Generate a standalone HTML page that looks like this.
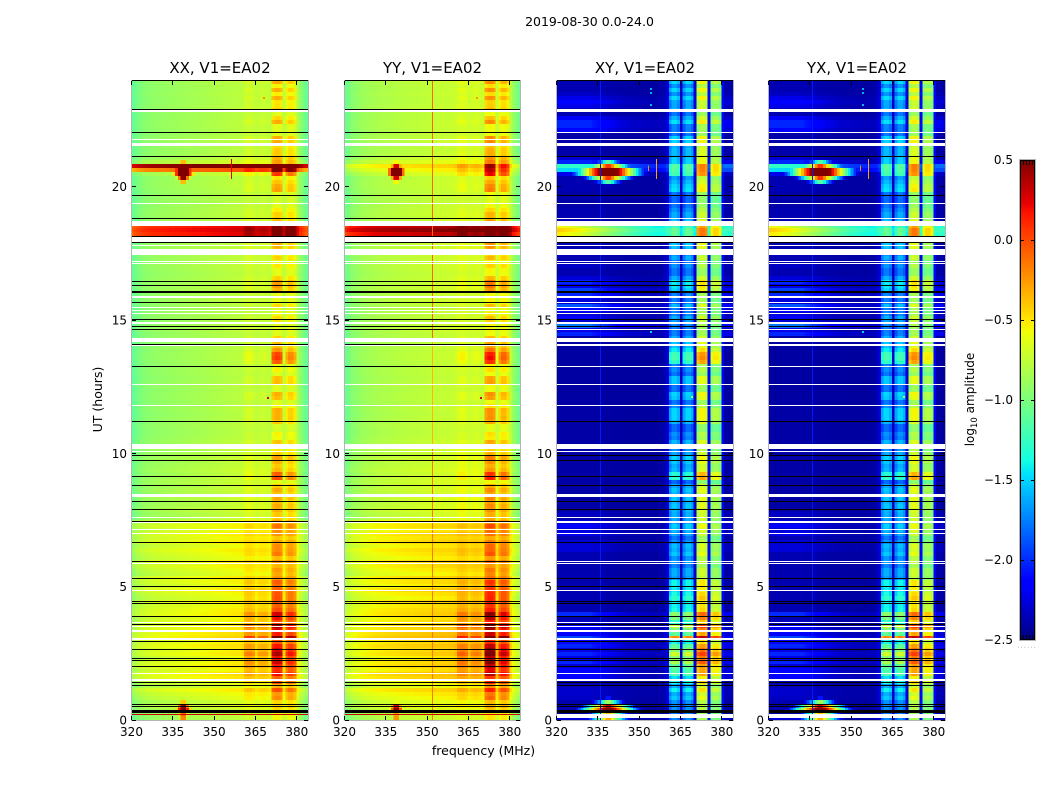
<!DOCTYPE html>
<html lang="en">
<head>
<meta charset="utf-8">
<title>2019-08-30 0.0-24.0</title>
<style>
html,body{margin:0;padding:0;background:#fff;}
svg{display:block;}
text{font-family:"DejaVu Sans","Liberation Sans",sans-serif;fill:#000;}
</style>
</head>
<body>
<svg id="figure" xmlns="http://www.w3.org/2000/svg" width="1050" height="800" viewBox="0 0 1050 800">
  <rect x="0" y="0" width="1050" height="800" fill="#fff"/>
  <text x="589.5" y="26" font-size="12.5" text-anchor="middle">2019-08-30 0.0-24.0</text>
  <g id="panel-xx"></g>
  <g id="panel-yy"></g>
  <g id="panel-xy"></g>
  <g id="panel-yx"></g>
  <text x="220" y="73" font-size="15" text-anchor="middle">XX, V1=EA02</text>
  <text x="432.5" y="73" font-size="15" text-anchor="middle">YY, V1=EA02</text>
  <text x="645" y="73" font-size="15" text-anchor="middle">XY, V1=EA02</text>
  <text x="857" y="73" font-size="15" text-anchor="middle">YX, V1=EA02</text>
  <text x="483.5" y="755" font-size="12.5" text-anchor="middle">frequency (MHz)</text>
  <text transform="translate(102,399.5) rotate(-90)" font-size="12.5" text-anchor="middle">UT (hours)</text>
  <g id="colorbar"></g>
  <text transform="translate(974,399.5) rotate(-90)" font-size="12" text-anchor="middle">log<tspan font-size="8.5" dy="3">10</tspan><tspan dy="-3"> amplitude</tspan></text>
  <text x="1017.5" y="647.5" font-size="5" letter-spacing="1.7" style="fill:#444">......</text>
</svg>
<script>
// ---------- chart data ----------
const freqChannelsMHz = [320,321,322,323,324,325,326,327,328,329,330,331,332,333,334,335,336,337,338,339,340,341,342,343,344,345,346,347,348,349,350,351,352,353,354,355,356,357,358,359,360,361,362,363,364,365,366,367,368,369,370,371,372,373,374,375,376,377,378,379,380,381,382,383];
const freqTicks = [320,335,350,365,380];
const hourTicks = [0,5,10,15,20];
const colorbarTicks = [0.5,0,-0.5,-1,-1.5,-2,-2.5];

const xxSpectrum = [-1.12,-1.08,-1.04,-1.01,-0.99,-0.97,-0.96,-0.95,-0.94,-0.94,
 -0.93,-0.93,-0.92,-0.92,-0.91,-0.91,-0.9,-0.9,-0.89,-0.89,
 -0.88,-0.88,-0.87,-0.87,-0.87,-0.86,-0.86,-0.85,-0.85,-0.84,
 -0.84,-0.83,-0.83,-0.82,-0.82,-0.81,-0.81,-0.8,-0.8,-0.8,
 -0.8,-0.78,-0.77,-0.77,-0.78,-0.79,-0.78,-0.77,-0.77,-0.78,
 -0.8,-0.78,-0.74,-0.74,-0.76,-0.8,-0.76,-0.72,-0.72,-0.76,
 -0.85,-0.95,-1.02,-1.1];
const yySpectrum = [-1.1,-1.05,-1.0,-0.97,-0.95,-0.93,-0.91,-0.9,-0.89,-0.88,
 -0.87,-0.86,-0.85,-0.85,-0.84,-0.84,-0.83,-0.83,-0.82,-0.82,
 -0.81,-0.81,-0.8,-0.8,-0.8,-0.79,-0.79,-0.79,-0.78,-0.78,
 -0.78,-0.77,-0.77,-0.77,-0.76,-0.76,-0.76,-0.76,-0.75,-0.75,
 -0.75,-0.74,-0.73,-0.73,-0.74,-0.75,-0.74,-0.73,-0.73,-0.74,
 -0.76,-0.74,-0.7,-0.7,-0.72,-0.77,-0.73,-0.68,-0.68,-0.73,
 -0.82,-0.92,-1.0,-1.08];
const crossSpectrum = [-2.42,-2.42,-2.42,-2.42,-2.42,-2.42,-2.42,-2.42,-2.42,-2.42,
 -2.42,-2.42,-2.42,-2.42,-2.42,-2.42,-2.42,-2.42,-2.42,-2.42,
 -2.42,-2.42,-2.42,-2.42,-2.42,-2.42,-2.42,-2.42,-2.42,-2.42,
 -2.42,-2.42,-2.42,-2.42,-2.42,-2.42,-2.42,-2.42,-2.4,-2.38,
 -2.3,-2.0,-1.85,-1.85,-1.95,-2.35,-2.0,-1.85,-1.85,-1.95,
 -2.3,-1.08,-0.96,-0.96,-1.04,-2.2,-1.2,-1.1,-1.1,-1.2,
 -2.2,-2.42,-2.42,-2.42];

const parallelRfiWeight = [0,0,0,0,0,0,0,0,0,0,0,0,0,0,0,0,0,0,0,0,0,0,0,0,0,0,0,0,0,0,0,0,0,0,0,0,0,0,0,0,
 0.03,0.14,0.16,0.16,0.12,0.03,0.06,0.08,0.08,0.06,0.03,0.85,0.9,0.9,0.85,0.1,0.5,0.6,0.6,0.5,0.05,0,0,0];
const crossRfiWeight = [0,0,0,0,0,0,0,0,0,0,0,0,0,0,0,0,0,0,0,0,0,0,0,0,0,0,0,0,0,0,0,0,0,0,0,0,0,0,0,0,
 0.03,0.8,0.8,0.8,0.8,0.05,0.8,0.8,0.8,0.8,0.05,0.9,0.9,0.9,0.9,0.1,0.7,0.7,0.7,0.7,0.1,0,0,0];
const parallelBoostWeight = [0,0,0,0,0,0,0,0,0,0,0,0,0,0,0,0,0,0,0,0,0,0,0,0,0,0,0,0,0,0,0,0,0,0,0,0,0,0,0,0,
 0,0.35,0.35,0.35,0.35,0,0.3,0.3,0.3,0.3,0,0.25,0.25,0.25,0.25,0,0.25,0.25,0.25,0.25,0,0,0,0];
const crossBoostWeight = [0,0,0,0,0,0,0,0,0,0,0,0,0,0,0,0,0,0,0,0,0,0,0,0,0,0,0,0,0,0,0,0,0,0,0,0,0,0,0,0,
 0,1,1,1,1,0,1,1,1,1,0,0.5,0.5,0.5,0.5,0,0.5,0.5,0.5,0.5,0,0,0,0];
const crossHazeWeight = [1,1,1,1,1,1,1,1,1,1,1,1,1,
 0.9,0.85,0.8,0.75,0.7,0.65,0.6,0.55,0.5,0.45,0.42,0.38,0.35,
 0.3,0.29,0.28,0.27,0.26,0.25,0.24,0.23,0.22,0.21,0.2,0.19,0.18,0.16,0.15,
 0.1,0.1,0.1,0.1,0.1,0.1,0.1,0.1,0.1,0.1,0.1,0.1,0.1,0.1,0.1,0.1,0.1,0.1,0.1,0.1,
 0.5,0.5,0.5];
const crossBandWeight = [1,1,0.99,0.98,0.97,0.96,0.95,0.94,0.93,0.92,0.9,0.89,0.87,0.86,0.85,0.83,0.82,0.8,0.79,0.77,0.76,0.75,0.73,0.72,0.7,0.69,0.67,0.66,0.65,0.63,0.62,0.61,0.6,0.59,0.58,0.57,0.56,0.56,0.55,0.55,0.55,
 0.05,0.05,0.05,0.05,0.45,0.05,0.05,0.05,0.05,0.45,0.03,0.03,0.03,0.03,0.45,0.03,0.03,0.03,0.03,0.45,0.6,0.6,0.6];

// one value per 0.15 h time row, starting at 0 UT
const parallelBroadband = [0.05,0.05,0.1,0.15,0.12,0.18,0.22,0.28,0.15,0.2,
 0.3,0.33,0.25,0.3,0.28,0.22,0.3,0.28,0.32,0.28,
 0.36,0.33,0.28,0.3,0.26,0.24,0.3,0.28,0.25,0.28,
 0.2,0.24,0.3,0.22,0.26,0.28,0.18,0.22,0.26,0.28,
 0.2,0.24,0.27,0.22,0.28,0.25,0.28,0.22,0.26,0.22,
 0.08,0.07,0.1,0.08,0.07,0.09,0.06,0.08,0.07,0.08,
 0.07,0.06,0.08,0.06,0.05,0.07,0.05,0.06,0.05,0.04,
 0.03,0.02,0.02,0.03,0.02,0.02,0.01,0.02,0.02,0.01,
 0.02,0.02,0.01,0.02,0.02,0.01,0.02,0.02,0.01,0.02,
 0.03,0.03,0.02,0.02,0.01,0.02,0.02,0.04,0.03,0.02,
 0.02,0.03,0.02,0.02,0.04,0.04,0.03,0.05,0.05,0.04,
 0.04,0.03,0.04,0.05,0.04,0.04,0.05,0.06,0.05,0.05,
 0.05,0.04,0.03,0.03,0.04,0.04,0.05,0.04,0.03,0.02,
 0.02,0.02,0.03,0.04,0.04,0.03,0.1,0.02,0.02,0.12,
 0.06,0.03,0.02,0.02,0.03,0.03,0.02,0.02,0.03,0.03,
 0.02,0.02,0.02,0.03,0.02,0.02,0.03,0.02,0.02,0.03];
const rfiRowLevel = [0.15,0.15,0.2,0.2,0.2,0.4,0.3,0.5,0.3,0.55,
 0.4,0.65,0.6,0.6,0.75,0.7,0.8,0.75,0.6,0.45,
 0.9,0.55,0.7,0.8,0.5,0.7,0.75,0.5,0.45,0.45,
 0.55,0.5,0.4,0.45,0.45,0.25,0.3,0.3,0.15,0.25,
 0.2,0.4,0.3,0.35,0.2,0.1,0.25,0.35,0.4,0.25,
 0.3,0.3,0.35,0.4,0.35,0.4,0.35,0.4,0.3,0.05,
 0.75,0.7,0.35,0.3,0.4,0.45,0.3,0.2,0.3,0.35,
 0.15,0.2,0.05,0.05,0.35,0.45,0.45,0.45,0.2,0.1,
 0.4,0.45,0.1,0.1,0.4,0.4,0.1,0.2,0.15,0.75,
 0.85,0.8,0.55,0.4,0.4,0.3,0.1,0.1,0.1,0.25,
 0.3,0.15,0.1,0.3,0.1,0.1,0.1,0.4,0.5,0.5,
 0.3,0.1,0.1,0.2,0.1,0.3,0.2,0.35,0.4,0.4,
 0.5,0.85,0.85,0.7,0.4,0.3,0.3,0.2,0.1,0.05,
 0.05,0.1,0.5,0.45,0.35,0.25,0.8,0.8,0.8,0.4,
 0.4,0.35,0.35,0.3,0.45,0.45,0.1,0.1,0.1,0.45,
 0.3,0.1,0.35,0.25,0.25,0.45,0.2,0.45,0.2,0.45];
const crossHazeRow = [0.15,0,0.05,0.05,0.05,0.1,0.12,0.12,0.08,0.05,
 0.3,0.3,0.3,0.15,0.4,0.2,0.4,0.2,0.4,0.3,
 0.5,0.3,0.2,0.25,0.08,0.05,0.42,0.05,0.05,0.05,
 0.05,0.05,0.04,0.05,0.04,0.05,0.05,0.04,0.05,0.05,
 0.05,0.05,0.15,0.15,0.15,0.05,0.2,0.15,0.25,0.15,
 0.05,0.1,0.03,0.02,0.02,0.02,0.02,0.02,0.02,0.02,
 0.02,0.02,0.02,0.02,0.02,0.02,0.02,0.02,0.02,0.02,
 0.02,0.02,0.02,0.02,0.02,0.02,0.02,0.02,0.02,0.02,
 0.01,0.01,0.01,0.01,0.01,0.01,0.01,0.01,0.01,0.01,
 0.01,0.01,0.01,0.01,0.01,0.02,0.4,0.2,0.65,0.15,
 0.25,0.15,0.3,0.55,0.15,0.2,0.4,0.5,0.2,0.4,
 0.15,0.05,0.05,0.1,0.05,0.05,0.1,0.05,0.05,0.05,
 0.05,0.05,0.05,0.05,0.05,0.05,0.05,0.05,0.03,0.03,
 0.03,0.03,0.05,0.05,0.05,0.05,0.2,0.6,0.7,0.4,
 0.15,0.03,0.03,0.03,0.03,0.03,0.03,0.3,0.4,0.4,
 0.25,0.05,0.05,0.2,0.3,0.2,0.1,0.05,0.05,0.05];
// extra band level in the strong early rows (0 to 5.25 h)
const lowRowBandBoost = [0,0,0,0,0,0,0,0.05,0,0.1,0.05,0.15,0.2,0.3,0.4,0.35,0.5,0.3,0.25,0.1,0.9,0.3,0.3,0.5,
 0.2,0.3,0.3,0.1,0.1,0.1,0.15,0.1,0.1,0.1,0.1];

const yyBroadbandGain = 1.15;
const yyRfiGain = 1.15;

// strong broadband rows (start hour of row, log10 lift)
const bandRowHours = [18.15,18.3,18.45,20.55,20.7];
const xxBandLift = [1.0,1.05,1.0,0.75,1.35];
const yyBandLift = [1.05,1.2,1.1,0.2,0.3];
const crossBandLift = [1.85,1.95,1.8,0.35,0.45];

// bursts of interference
const burstFreq = [339,339,339];
const burstHour = [20.55,0.42,0.04];
const xxBurstPeak = [2.0,1.3,0.3];
const yyBurstPeak = [1.8,1.1,0.25];
const crossBurstPeak = [2.0,1.3,0.1];
const parallelBurstFreqSlope = 0.6;
const crossBurstFreqSlope = 0.27;
const parallelBurstHourSlope = 5.5;
const crossBurstHourSlope = 8;

// flagged data
const whiteBands = [[1.46,1.54],[1.73,1.76],[3.0,3.06],[3.3,3.38],[3.49,3.54],[3.64,3.68],[4.84,4.88],[5.85,5.89],[6.98,7.01],[7.13,7.16],[7.37,7.41],[7.59,7.63],[8.36,8.48],[10.05,10.09],[10.15,10.35],[11.78,11.81],[12.56,12.6],[14.03,14.06],[14.16,14.31],[14.85,14.92],[15.22,15.27],[15.34,15.38],[15.45,15.47],[15.84,15.91],[17.1,17.14],[17.19,17.22],[17.45,17.61],[17.63,17.66],[17.78,17.81],[17.93,18.1],[18.53,18.71],[19.35,19.39],[21.53,21.64],[21.75,21.78],[22.8,22.86]];
const crossWhiteBands = [[0.075,0.225]];
const crossWhiteLines = [5.94,7.44,13.25,14.09,14.65,15.66,18.81,22.04,22.89];
const thickBlackBands = [[0.25,0.375],[16.02,16.1],[16.26,16.32]];
const parallelBlackLines = [0.5,0.59,1.3,1.4,2.01,2.22,2.3,2.65,2.95,3.59,3.89,4.38,4.44,5.01,5.31,5.94,6.65,7.44,7.9,8.2,8.8,9.14,9.74,9.93,11.2,13.25,14.09,14.65,14.75,15.03,15.66,16.45,17.91,18.15,18.81,19.68,21.14,22.04,22.89];
const crossBlackLines = [0.5,0.59,1.3,1.4,2.01,2.22,2.3,2.65,2.95,3.59,3.89,4.38,4.44,5.01,5.31,6.65,7.9,8.2,8.8,9.14,9.74,9.93,11.2,14.75,15.03,16.45,17.91,18.15,19.68,21.14];
const parallelHotLineHours = [0.21];
const parallelHotLineValue = [0.3];

// narrow features: frequency, start hour, end hour, value
const spikeFreqXX = [356.3];
const spikeStartXX = [20.29];
const spikeEndXX = [21.03];
const spikeValueXX = [0.25];
const spikeFreqCross = [356.4,353.4];
const spikeStartCross = [20.29,20.59];
const spikeEndCross = [21.03,20.8];
const spikeValueCross = [-0.3,-0.2];
const lineFreqYY = [351.8,351.8,351.8];
const lineStartYY = [0,10.3,14.2];
const lineEndYY = [10.3,14.2,24];
const lineValueYY = [-0.15,-0.35,-0.1];
const lineFreqCross = [336,336];
const lineStartCross = [0,18.6];
const lineEndCross = [18.15,24];
const lineValueCross = [-2.05,-2.05];

// isolated speckles: frequency, hour, value
const speckleFreqParallel = [367.9,369.4];
const speckleHourParallel = [23.36,12.1];
const speckleValueParallel = [-0.25,0.3];
const speckleFreqCross = [354.1,354.1,354.1,354.1,368.9];
const speckleHourCross = [23.7,23.55,23.1,14.6,12.15];
const speckleValueCross = [-1.6,-1.6,-1.6,-1.5,-0.9];

// jet colormap anchors
const jetRPos = [0,0.35,0.66,0.89,1];
const jetRVal = [0,0,1,1,0.5];
const jetGPos = [0,0.125,0.375,0.64,0.91,1];
const jetGVal = [0,0,1,1,0,0];
const jetBPos = [0,0.11,0.34,0.65,1];
const jetBVal = [0.5,1,1,0,0];

// ---------- rendering ----------
const NS = 'http://www.w3.org/2000/svg';
const vMin = -2.5, vMax = 0.5;
const plotTop = 80, plotBottom = 720, hoursMax = 24;
const freqMin = 320, freqMax = 384.25, plotWidth = 177;
const rowHours = hoursMax / rfiRowLevel.length;

function yScale(hour){ return plotBottom - (hour / hoursMax) * (plotBottom - plotTop); }
function xScale(left, mhz){ return left + (mhz - freqMin) / (freqMax - freqMin) * plotWidth; }
function interp(pos, val, t){
  for (let k = 1; k < pos.length; k++) {
    if (t <= pos[k]) return val[k-1] + (val[k]-val[k-1]) * (t-pos[k-1]) / (pos[k]-pos[k-1]);
  }
  return val[val.length-1];
}
function jet(v){
  const t = Math.max(0, Math.min(1, (v - vMin) / (vMax - vMin)));
  const r = Math.round(255 * interp(jetRPos, jetRVal, t));
  const g = Math.round(255 * interp(jetGPos, jetGVal, t));
  const b = Math.round(255 * interp(jetBPos, jetBVal, t));
  return 'rgb(' + r + ',' + g + ',' + b + ')';
}
function burstValue(peaks, slopeF, slopeH, hour, mhz){
  let best = -99;
  for (let k = 0; k < burstFreq.length; k++) {
    const v = peaks[k] - slopeF * Math.abs(mhz - burstFreq[k]) - slopeH * Math.abs(hour - burstHour[k]);
    if (v > best) best = v;
  }
  return best;
}
function bandLift(lifts, i){
  for (let k = 0; k < bandRowHours.length; k++) {
    if (Math.round(bandRowHours[k] / rowHours) === i) return lifts[k];
  }
  return 0;
}
function cellValue(pol, i, c){
  const hour = (i + 0.5) * rowHours;
  const mhz = freqChannelsMHz[c] + 0.5;
  const boost = lowRowBandBoost[i] || 0;
  let v;
  if (pol === 'XX') {
    v = xxSpectrum[c] + parallelBroadband[i] + rfiRowLevel[i] * parallelRfiWeight[c] + boost * parallelBoostWeight[c] + bandLift(xxBandLift, i);
    return Math.max(v, burstValue(xxBurstPeak, parallelBurstFreqSlope, parallelBurstHourSlope, hour, mhz));
  }
  if (pol === 'YY') {
    v = yySpectrum[c] + parallelBroadband[i] * yyBroadbandGain + rfiRowLevel[i] * parallelRfiWeight[c] * yyRfiGain + boost * parallelBoostWeight[c] + bandLift(yyBandLift, i);
    return Math.max(v, burstValue(yyBurstPeak, parallelBurstFreqSlope, parallelBurstHourSlope, hour, mhz));
  }
  v = crossSpectrum[c] + crossHazeRow[i] * crossHazeWeight[c] + rfiRowLevel[i] * crossRfiWeight[c] + boost * crossBoostWeight[c] + bandLift(crossBandLift, i) * crossBandWeight[c];
  return Math.max(v, burstValue(crossBurstPeak, crossBurstFreqSlope, crossBurstHourSlope, hour, mhz));
}
function makeRect(x, y, w, h, fill){
  const r = document.createElementNS(NS, 'rect');
  r.setAttribute('x', x);
  r.setAttribute('y', y);
  r.setAttribute('width', w);
  r.setAttribute('height', h);
  r.setAttribute('fill', fill);
  r.setAttribute('shape-rendering', 'crispEdges');
  return r;
}
function makeLabel(x, y, str, anchor){
  const t = document.createElementNS(NS, 'text');
  t.setAttribute('x', x);
  t.setAttribute('y', y);
  t.setAttribute('font-size', '12');
  t.setAttribute('text-anchor', anchor);
  t.textContent = str;
  return t;
}
function hourBand(g, left, width, h0, h1, fill, name){
  const yTop = Math.round(yScale(h1));
  const yBot = Math.round(yScale(h0));
  const r = makeRect(left, yTop, width, Math.max(1, yBot - yTop), fill);
  
  
  g.appendChild(r);
}
function hourLine(g, left, width, hour, fill, name){
  const r = makeRect(left, Math.floor(yScale(hour)), width, 1, fill);
  
  
  g.appendChild(r);
}

function drawPanel(id, pol, left, innerWidth){
  const g = document.getElementById(id);
  const parallel = (pol === 'XX' || pol === 'YY');
  const heat = document.createElementNS(NS, 'g');
  
  
  g.appendChild(heat);

  for (let i = 0; i < rfiRowLevel.length; i++) {
    const y0 = yScale((i + 1) * rowHours);
    const y1 = yScale(i * rowHours);
    for (let c = 0; c < freqChannelsMHz.length; c++) {
      const x0 = Math.max(left + 1, xScale(left, freqChannelsMHz[c]));
      const x1 = c === freqChannelsMHz.length - 1 ? left + innerWidth : xScale(left, freqChannelsMHz[c + 1]);
      const cell = makeRect(x0, y0, x1 - x0, y1 - y0, jet(cellValue(pol, i, c)));
      
      
      heat.appendChild(cell);
    }
  }

  // continuous vertical lines
  let lnF = [], lnS = [], lnE = [], lnV = [];
  if (pol === 'YY') { lnF = lineFreqYY; lnS = lineStartYY; lnE = lineEndYY; lnV = lineValueYY; }
  if (!parallel) { lnF = lineFreqCross; lnS = lineStartCross; lnE = lineEndCross; lnV = lineValueCross; }
  lnF.forEach(function(f, k){
    const r = makeRect(Math.round(xScale(left, f)), yScale(lnE[k]), 1, yScale(lnS[k]) - yScale(lnE[k]), jet(lnV[k]));
    
    
    g.appendChild(r);
  });

  // short spikes
  let spF = [], spS = [], spE = [], spV = [];
  if (pol === 'XX') { spF = spikeFreqXX; spS = spikeStartXX; spE = spikeEndXX; spV = spikeValueXX; }
  if (!parallel) { spF = spikeFreqCross; spS = spikeStartCross; spE = spikeEndCross; spV = spikeValueCross; }
  spF.forEach(function(f, k){
    const r = makeRect(Math.round(xScale(left, f)), yScale(spE[k]), 1, yScale(spS[k]) - yScale(spE[k]), jet(spV[k]));
    
    
    g.appendChild(r);
  });

  // speckles
  const skF = parallel ? speckleFreqParallel : speckleFreqCross;
  const skH = parallel ? speckleHourParallel : speckleHourCross;
  const skV = parallel ? speckleValueParallel : speckleValueCross;
  skF.forEach(function(f, k){
    const r = makeRect(Math.round(xScale(left, f)), Math.round(yScale(skH[k])), 2, 2, jet(skV[k]));
    
    
    g.appendChild(r);
  });

  // flags
  const fx = left + 1, fw = innerWidth - 1;
  if (parallel) {
    parallelHotLineHours.forEach(function(h, k){
      hourLine(g, fx, fw, h, jet(parallelHotLineValue[k]), 'hot-row-line');
    });
  }
  whiteBands.forEach(function(b){ hourBand(g, fx, fw, b[0], b[1], '#fff', 'flagged-band'); });
  if (!parallel) {
    crossWhiteBands.forEach(function(b){ hourBand(g, fx, fw, b[0], b[1], '#fff', 'flagged-band'); });
    crossWhiteLines.forEach(function(h){ hourLine(g, fx, fw, h, '#fff', 'flagged-line'); });
  }
  thickBlackBands.forEach(function(b){ hourBand(g, fx, fw, b[0], b[1], '#000', 'blanked-band'); });
  (parallel ? parallelBlackLines : crossBlackLines).forEach(function(h){ hourLine(g, fx, fw, h, '#000', 'blanked-line'); });

  // frame
  const right = left + innerWidth;
  const frame = document.createElementNS(NS, 'rect');
  frame.setAttribute('x', left + 0.5);
  frame.setAttribute('y', plotTop + 0.5);
  frame.setAttribute('width', innerWidth);
  frame.setAttribute('height', plotBottom - plotTop);
  frame.setAttribute('fill', 'none');
  frame.setAttribute('stroke', '#b4b4b4');
  frame.setAttribute('shape-rendering', 'crispEdges');
  
  
  g.appendChild(frame);
  const topEdge = makeRect(left + 1, plotTop, innerWidth - 1, 1, '#000');
  
  
  g.appendChild(topEdge);

  // ticks
  freqTicks.forEach(function(f){
    const x = Math.round(xScale(left, f));
    const top = makeRect(x, plotTop + 1, 1, 4, '#000');
    
    
    g.appendChild(top);
    const bot = makeRect(x, plotBottom - 4, 1, 4, '#000');
    
    
    g.appendChild(bot);
    const lab = makeLabel(xScale(left, f) + 0.5, 736, String(f), 'middle');
    
    
    g.appendChild(lab);
  });
  hourTicks.forEach(function(h){
    const y = Math.floor(yScale(h));
    const l = makeRect(left + 1, y, 4, 1, '#000');
    
    
    g.appendChild(l);
    const r = makeRect(right - 4, y, 4, 1, '#000');
    
    
    g.appendChild(r);
    const lab = makeLabel(left - 4, yScale(h) + 4.5, String(h), 'end');
    
    
    g.appendChild(lab);
  });
}

function drawColorbar(){
  const g = document.getElementById('colorbar');
  const cx = 1020, cw = 15, cTop = 160, cBot = 640;
  const cbY = function(v){ return cBot - (v - vMin) / (vMax - vMin) * (cBot - cTop); };
  const steps = 240;
  for (let s = 0; s < steps; s++) {
    const v = vMin + (s + 0.5) / steps * (vMax - vMin);
    const y1 = cbY(vMin + s / steps * (vMax - vMin));
    const y0 = cbY(vMin + (s + 1) / steps * (vMax - vMin));
    const seg = makeRect(cx, y0, cw, y1 - y0, jet(v));
    
    
    g.appendChild(seg);
  }
  const inner = document.createElementNS(NS, 'rect');
  inner.setAttribute('x', cx + 0.5);
  inner.setAttribute('y', cTop + 0.5);
  inner.setAttribute('width', cw - 1);
  inner.setAttribute('height', cBot - cTop - 1);
  inner.setAttribute('fill', 'none');
  inner.setAttribute('stroke', '#000');
  inner.setAttribute('shape-rendering', 'crispEdges');
  
  
  g.appendChild(inner);
  const outer = document.createElementNS(NS, 'rect');
  outer.setAttribute('x', cx - 0.5);
  outer.setAttribute('y', cTop - 0.5);
  outer.setAttribute('width', cw + 1);
  outer.setAttribute('height', cBot - cTop + 1);
  outer.setAttribute('fill', 'none');
  outer.setAttribute('stroke', '#b4b4b4');
  outer.setAttribute('shape-rendering', 'crispEdges');
  
  
  g.appendChild(outer);
  colorbarTicks.forEach(function(v){
    const y = Math.min(cBot - 1, Math.round(cbY(v)));
    const a = makeRect(cx, y, 4, 1, '#000');
    
    
    g.appendChild(a);
    const b = makeRect(cx + cw - 4, y, 4, 1, '#000');
    
    
    g.appendChild(b);
    const str = (v < 0 ? '\u2212' : '') + Math.abs(v).toFixed(1);
    const lab = makeLabel(1013, cbY(v) + 4, str, 'end');
    
    
    g.appendChild(lab);
  });
  [3, 6, 9, 12].forEach(function(dx){
    const t = makeRect(cx + dx, cTop + 1, 1, 4, '#000');
    
    
    g.appendChild(t);
    const u = makeRect(cx + dx, cBot - 5, 1, 4, '#000');
    
    
    g.appendChild(u);
  });
}

drawPanel('panel-xx', 'XX', 131, 177);
drawPanel('panel-yy', 'YY', 344, 176);
drawPanel('panel-xy', 'XY', 556, 177);
drawPanel('panel-yx', 'YX', 768, 177);
drawColorbar();
</script>
</body>
</html>
